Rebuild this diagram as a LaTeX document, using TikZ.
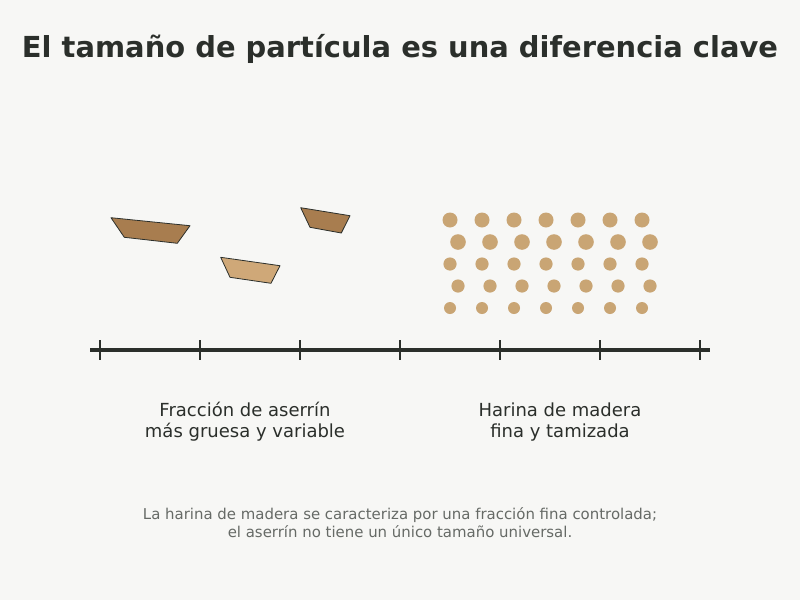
\documentclass[tikz,border=0pt]{standalone}
\usepackage{fontspec}
\setmainfont{DejaVu Sans}

\definecolor{bgcol}{HTML}{F7F7F5}
\definecolor{inkcol}{HTML}{2B2F2B}
\definecolor{notecol}{HTML}{666A66}
\definecolor{darkwood}{HTML}{A87D4F}
\definecolor{lightwood}{HTML}{CFA878}
\definecolor{dotcol}{HTML}{C9A574}

\begin{document}
\begin{tikzpicture}[x=0.75pt,y=-0.75pt,
    chip/.style={draw=inkcol, line width=0.6pt, line join=round},
    grain/.style={fill=dotcol},
    label/.style={text=inkcol, font=\fontsize{13.5}{16}\selectfont, align=center},
    note/.style={text=notecol, font=\fontsize{11.2}{13.5}\selectfont, align=center}]
\fill[bgcol] (0,0) rectangle (800,600);
\useasboundingbox (0,0) rectangle (800,600);
\node[text=inkcol, font=\fontsize{21.7}{26}\selectfont\bfseries] (title) at (400,48.5) {El tamaño de partícula es una diferencia clave};
% coarse sawdust chips
\draw[chip, fill=darkwood] (111,217.7) -- (190,225.7) -- (177.3,243.3) -- (124.3,237.3) -- cycle;
\draw[chip, fill=lightwood] (220.7,257.3) -- (280,265.7) -- (271,283.3) -- (230,277.3) -- cycle;
\draw[chip, fill=darkwood] (300.7,207.7) -- (350,215.7) -- (341.3,233) -- (310,227.3) -- cycle;
% fine wood flour
\foreach \y/\dx/\r in {220/0/7.5, 242/8/7.8, 264/0/6.6, 286/8/6.6, 308/0/6}
  \foreach \i in {0,...,6}
    \fill[grain] (450+\dx+32*\i,\y) circle (\r);
% size axis
\draw[inkcol, line width=2.4pt] (90,350) -- (710,350);
\foreach \x in {100,200,...,700}
  \draw[inkcol, line width=1.5pt] (\x,340) -- (\x,360);
\node[label] (coarse) at (245,422) {Fracción de aserrín\\más gruesa y variable};
\node[label] (fine) at (560,422) {Harina de madera\\fina y tamizada};
\node[note] (footer) at (400,523) {La harina de madera se caracteriza por una fracción fina controlada;\\el aserrín no tiene un único tamaño universal.};
\end{tikzpicture}
\end{document}
